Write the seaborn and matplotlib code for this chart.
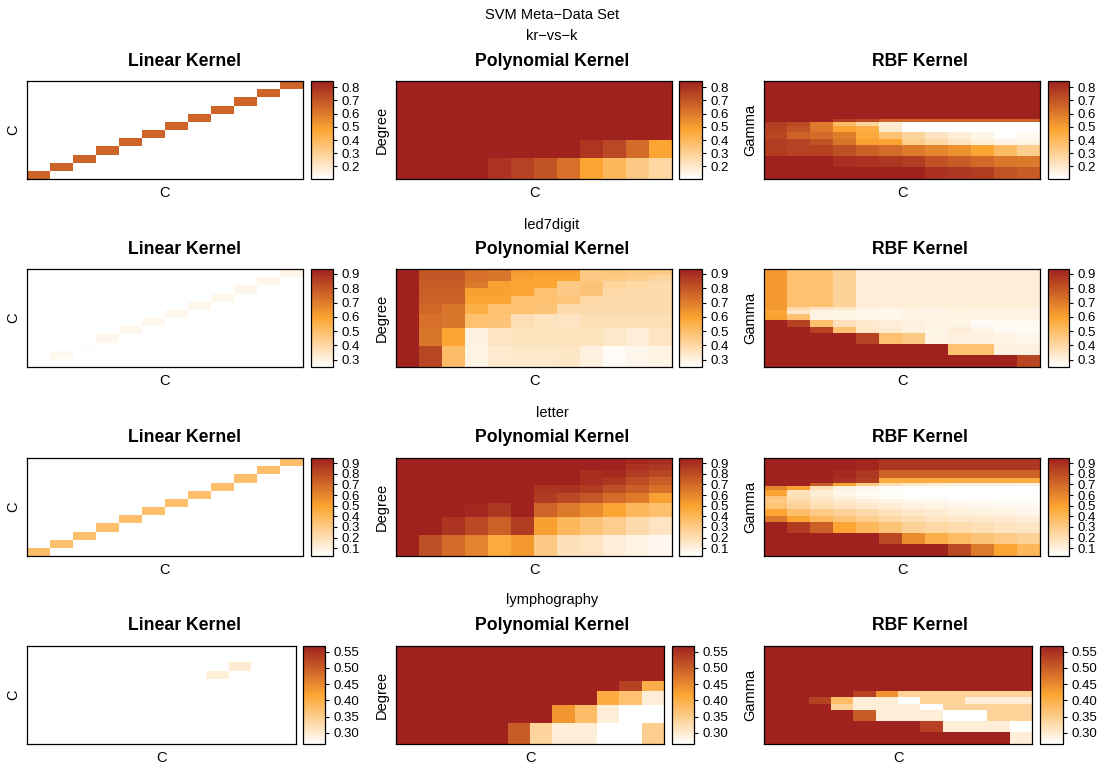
import numpy as np
import matplotlib
matplotlib.use("Agg")
import matplotlib.pyplot as plt
import seaborn as sns
from matplotlib.ticker import MultipleLocator, FormatStrFormatter

# =========================
# Datos
# =========================

dataset_names = ["kr−vs−k", "led7digit", "letter", "lymphography"]
kernel_titles = ["Linear Kernel", "Polynomial Kernel", "RBF Kernel"]

n_cost = 12
# bordes de la rejilla de parámetros (escala normalizada del eje)
poly_degree_edges = [0, 0.21, 0.397, 0.54, 0.643, 0.728, 0.803, 0.876, 0.94, 1.0]
rbf_gamma_edges = [0, 0.12, 0.23, 0.35, 0.405, 0.475, 0.545, 0.58, 0.614,
                   0.676, 0.71, 0.744, 0.795, 0.881, 1.0]

# --- kr-vs-k ---
krvsk_linear = [0.66, 0.66, 0.66, 0.66, 0.66, 0.66, 0.66, 0.66, 0.66, 0.66, 0.66, 0.66]
krvsk_poly = [
    [0.848, 0.848, 0.848, 0.848, 0.848, 0.848, 0.848, 0.848, 0.848, 0.848, 0.848, 0.848],
    [0.848, 0.848, 0.848, 0.848, 0.848, 0.848, 0.848, 0.848, 0.848, 0.848, 0.848, 0.848],
    [0.848, 0.848, 0.848, 0.848, 0.848, 0.848, 0.848, 0.848, 0.848, 0.848, 0.848, 0.848],
    [0.848, 0.848, 0.848, 0.848, 0.848, 0.848, 0.848, 0.848, 0.848, 0.848, 0.848, 0.848],
    [0.848, 0.848, 0.848, 0.848, 0.848, 0.848, 0.848, 0.848, 0.848, 0.848, 0.848, 0.848],
    [0.848, 0.848, 0.848, 0.848, 0.848, 0.848, 0.848, 0.848, 0.848, 0.848, 0.848, 0.848],
    [0.848, 0.848, 0.848, 0.848, 0.848, 0.848, 0.848, 0.848, 0.848, 0.848, 0.848, 0.848],
    [0.848, 0.848, 0.848, 0.848, 0.848, 0.848, 0.848, 0.848, 0.79, 0.74, 0.64, 0.476],
    [0.848, 0.848, 0.848, 0.848, 0.80, 0.76, 0.71, 0.625, 0.476, 0.40, 0.327, 0.27],
]
krvsk_rbf = [
    [0.848, 0.848, 0.848, 0.848, 0.848, 0.848, 0.848, 0.848, 0.848, 0.848, 0.848, 0.848],
    [0.848, 0.848, 0.848, 0.848, 0.848, 0.848, 0.848, 0.848, 0.848, 0.848, 0.848, 0.848],
    [0.848, 0.848, 0.848, 0.848, 0.848, 0.848, 0.848, 0.848, 0.848, 0.848, 0.848, 0.848],
    [0.848, 0.848, 0.848, 0.848, 0.848, 0.848, 0.848, 0.848, 0.848, 0.848, 0.848, 0.848],
    [0.848, 0.848, 0.848, 0.848, 0.848, 0.848, 0.848, 0.848, 0.848, 0.848, 0.848, 0.848],
    [0.848, 0.848, 0.848, 0.848, 0.848, 0.848, 0.848, 0.848, 0.848, 0.848, 0.848, 0.848],
    [0.848, 0.848, 0.848, 0.77, 0.74, 0.66, 0.66, 0.66, 0.66, 0.66, 0.66, 0.66],
    [0.774, 0.736, 0.595, 0.387, 0.283, 0.178, 0.104, 0.104, 0.104, 0.104, 0.104, 0.104],
    [0.759, 0.714, 0.602, 0.476, 0.446, 0.193, 0.11, 0.104, 0.104, 0.104, 0.104, 0.104],
    [0.744, 0.662, 0.640, 0.595, 0.46, 0.357, 0.283, 0.216, 0.178, 0.149, 0.11, 0.126],
    [0.774, 0.759, 0.714, 0.62, 0.49, 0.476, 0.312, 0.268, 0.216, 0.178, 0.149, 0.149],
    [0.774, 0.759, 0.759, 0.722, 0.669, 0.640, 0.602, 0.565, 0.536, 0.476, 0.387, 0.312],
    [0.848, 0.848, 0.848, 0.811, 0.803, 0.788, 0.774, 0.714, 0.684, 0.647, 0.610, 0.602],
    [0.848, 0.848, 0.848, 0.848, 0.848, 0.848, 0.848, 0.803, 0.788, 0.774, 0.714, 0.684],
]

# --- led7digit ---
led7_linear = [0.248, 0.275, 0.255, 0.28, 0.28, 0.28, 0.28, 0.282, 0.282, 0.285, 0.285, 0.29]
led7_poly = [
    [0.935, 0.798, 0.798, 0.729, 0.715, 0.626, 0.605, 0.605, 0.454, 0.468, 0.454, 0.454],
    [0.935, 0.798, 0.798, 0.729, 0.715, 0.605, 0.592, 0.592, 0.454, 0.454, 0.440, 0.413],
    [0.935, 0.784, 0.784, 0.708, 0.605, 0.592, 0.592, 0.454, 0.482, 0.413, 0.399, 0.385],
    [0.935, 0.777, 0.777, 0.605, 0.605, 0.592, 0.488, 0.454, 0.475, 0.399, 0.385, 0.385],
    [0.935, 0.770, 0.770, 0.592, 0.592, 0.488, 0.488, 0.468, 0.399, 0.385, 0.385, 0.385],
    [0.935, 0.756, 0.715, 0.557, 0.488, 0.488, 0.475, 0.385, 0.385, 0.385, 0.385, 0.385],
    [0.935, 0.729, 0.715, 0.488, 0.475, 0.372, 0.358, 0.351, 0.372, 0.372, 0.372, 0.372],
    [0.935, 0.715, 0.592, 0.303, 0.351, 0.358, 0.358, 0.358, 0.358, 0.337, 0.317, 0.351],
    [0.935, 0.839, 0.502, 0.296, 0.330, 0.337, 0.337, 0.344, 0.303, 0.262, 0.282, 0.296],
]
led7_rbf = [
    [0.626, 0.488, 0.488, 0.42, 0.317, 0.317, 0.317, 0.317, 0.317, 0.317, 0.317, 0.317],
    [0.626, 0.488, 0.488, 0.42, 0.317, 0.317, 0.317, 0.317, 0.317, 0.317, 0.317, 0.317],
    [0.626, 0.488, 0.488, 0.42, 0.317, 0.317, 0.317, 0.317, 0.317, 0.317, 0.317, 0.317],
    [0.626, 0.488, 0.488, 0.42, 0.317, 0.317, 0.317, 0.317, 0.317, 0.317, 0.317, 0.317],
    [0.626, 0.488, 0.488, 0.42, 0.317, 0.317, 0.317, 0.317, 0.317, 0.317, 0.317, 0.317],
    [0.626, 0.488, 0.488, 0.42, 0.317, 0.317, 0.317, 0.317, 0.317, 0.317, 0.317, 0.317],
    [0.626, 0.385, 0.351, 0.337, 0.296, 0.289, 0.303, 0.296, 0.303, 0.303, 0.303, 0.303],
    [0.592, 0.337, 0.296, 0.296, 0.282, 0.282, 0.296, 0.296, 0.303, 0.296, 0.296, 0.296],
    [0.605, 0.488, 0.296, 0.289, 0.282, 0.282, 0.296, 0.296, 0.296, 0.296, 0.296, 0.296],
    [0.935, 0.853, 0.488, 0.365, 0.330, 0.317, 0.303, 0.296, 0.289, 0.262, 0.275, 0.275],
    [0.935, 0.935, 0.853, 0.488, 0.344, 0.330, 0.303, 0.289, 0.317, 0.289, 0.268, 0.268],
    [0.935, 0.935, 0.935, 0.935, 0.853, 0.488, 0.454, 0.296, 0.303, 0.303, 0.296, 0.282],
    [0.935, 0.935, 0.935, 0.935, 0.935, 0.935, 0.935, 0.935, 0.488, 0.488, 0.303, 0.303],
    [0.935, 0.935, 0.935, 0.935, 0.935, 0.935, 0.935, 0.935, 0.935, 0.935, 0.935, 0.839],
]

# --- letter ---
letter_linear = [0.37, 0.36, 0.36, 0.36, 0.36, 0.36, 0.36, 0.36, 0.36, 0.36, 0.36, 0.36]
letter_poly = [
    [0.947, 0.947, 0.947, 0.947, 0.947, 0.947, 0.947, 0.947, 0.947, 0.947, 0.919, 0.910],
    [0.947, 0.947, 0.947, 0.947, 0.947, 0.947, 0.947, 0.947, 0.947, 0.947, 0.892, 0.873],
    [0.947, 0.947, 0.947, 0.947, 0.947, 0.947, 0.947, 0.947, 0.901, 0.919, 0.855, 0.818],
    [0.947, 0.947, 0.947, 0.947, 0.947, 0.947, 0.947, 0.947, 0.901, 0.873, 0.800, 0.736],
    [0.947, 0.947, 0.947, 0.947, 0.947, 0.947, 0.883, 0.892, 0.855, 0.791, 0.736, 0.671],
    [0.947, 0.947, 0.947, 0.947, 0.947, 0.947, 0.855, 0.809, 0.763, 0.690, 0.635, 0.506],
    [0.947, 0.947, 0.947, 0.930, 0.873, 0.947, 0.717, 0.644, 0.579, 0.488, 0.396, 0.359],
    [0.947, 0.947, 0.883, 0.809, 0.726, 0.855, 0.506, 0.396, 0.331, 0.285, 0.212, 0.166],
    [0.947, 0.791, 0.690, 0.607, 0.469, 0.533, 0.304, 0.184, 0.166, 0.120, 0.092, 0.065],
]
letter_rbf = [
    [0.947, 0.947, 0.947, 0.947, 0.93, 0.873, 0.873, 0.873, 0.873, 0.873, 0.873, 0.873],
    [0.947, 0.947, 0.947, 0.92, 0.873, 0.726, 0.726, 0.726, 0.726, 0.726, 0.726, 0.726],
    [0.947, 0.947, 0.947, 0.90, 0.85, 0.46, 0.46, 0.46, 0.46, 0.46, 0.46, 0.46],
    [0.947, 0.947, 0.745, 0.50, 0.30, 0.20, 0.15, 0.12, 0.10, 0.10, 0.10, 0.09],
    [0.60, 0.50, 0.20, 0.10, 0.07, 0.04, 0.04, 0.04, 0.035, 0.035, 0.03, 0.03],
    [0.488, 0.18, 0.12, 0.08, 0.05, 0.04, 0.03, 0.03, 0.03, 0.03, 0.028, 0.028],
    [0.33, 0.20, 0.14, 0.10, 0.07, 0.05, 0.04, 0.04, 0.03, 0.03, 0.03, 0.03],
    [0.30, 0.22, 0.17, 0.13, 0.10, 0.08, 0.07, 0.06, 0.05, 0.05, 0.04, 0.04],
    [0.33, 0.26, 0.20, 0.17, 0.14, 0.12, 0.10, 0.09, 0.08, 0.07, 0.06, 0.06],
    [0.488, 0.36, 0.30, 0.26, 0.22, 0.18, 0.15, 0.13, 0.11, 0.10, 0.09, 0.08],
    [0.644, 0.488, 0.396, 0.33, 0.28, 0.23, 0.20, 0.17, 0.15, 0.14, 0.13, 0.12],
    [0.947, 0.855, 0.73, 0.488, 0.396, 0.33, 0.26, 0.23, 0.21, 0.19, 0.17, 0.16],
    [0.947, 0.947, 0.947, 0.947, 0.947, 0.809, 0.579, 0.44, 0.377, 0.33, 0.30, 0.258],
    [0.947, 0.947, 0.947, 0.947, 0.947, 0.947, 0.947, 0.947, 0.81, 0.644, 0.488, 0.396],
]

# --- lymphography ---
lymph_linear = [0.267, 0.267, 0.267, 0.267, 0.267, 0.267, 0.267, 0.267, 0.296, 0.30, 0.267, 0.267]
lymph_poly = [
    [0.567, 0.567, 0.567, 0.567, 0.567, 0.567, 0.567, 0.567, 0.567, 0.567, 0.567, 0.567],
    [0.567, 0.567, 0.567, 0.567, 0.567, 0.567, 0.567, 0.567, 0.567, 0.567, 0.567, 0.567],
    [0.567, 0.567, 0.567, 0.567, 0.567, 0.567, 0.567, 0.567, 0.567, 0.567, 0.567, 0.567],
    [0.567, 0.567, 0.567, 0.567, 0.567, 0.567, 0.567, 0.567, 0.567, 0.567, 0.567, 0.567],
    [0.567, 0.567, 0.567, 0.567, 0.567, 0.567, 0.567, 0.567, 0.567, 0.567, 0.567, 0.567],
    [0.567, 0.567, 0.567, 0.567, 0.567, 0.567, 0.567, 0.567, 0.567, 0.567, 0.531, 0.401],
    [0.567, 0.567, 0.567, 0.567, 0.567, 0.567, 0.567, 0.567, 0.567, 0.407, 0.371, 0.296],
    [0.567, 0.567, 0.567, 0.567, 0.567, 0.567, 0.567, 0.435, 0.377, 0.296, 0.266, 0.266],
    [0.567, 0.567, 0.567, 0.567, 0.567, 0.501, 0.338, 0.296, 0.296, 0.266, 0.266, 0.350],
]
lymph_rbf = [
    [0.567, 0.567, 0.567, 0.567, 0.567, 0.567, 0.567, 0.567, 0.567, 0.567, 0.567, 0.567],
    [0.567, 0.567, 0.567, 0.567, 0.567, 0.567, 0.567, 0.567, 0.567, 0.567, 0.567, 0.567],
    [0.567, 0.567, 0.567, 0.567, 0.567, 0.567, 0.567, 0.567, 0.567, 0.567, 0.567, 0.567],
    [0.567, 0.567, 0.567, 0.567, 0.567, 0.567, 0.567, 0.567, 0.567, 0.567, 0.567, 0.567],
    [0.567, 0.567, 0.567, 0.567, 0.567, 0.567, 0.567, 0.567, 0.567, 0.567, 0.567, 0.567],
    [0.567, 0.567, 0.567, 0.567, 0.567, 0.567, 0.567, 0.567, 0.567, 0.567, 0.567, 0.567],
    [0.567, 0.567, 0.567, 0.567, 0.567, 0.567, 0.567, 0.567, 0.567, 0.567, 0.567, 0.567],
    [0.567, 0.567, 0.567, 0.567, 0.567, 0.567, 0.567, 0.567, 0.567, 0.567, 0.567, 0.567],
    [0.567, 0.567, 0.567, 0.567, 0.531, 0.438, 0.341, 0.341, 0.341, 0.341, 0.341, 0.341],
    [0.567, 0.567, 0.531, 0.380, 0.296, 0.296, 0.266, 0.341, 0.341, 0.296, 0.296, 0.296],
    [0.567, 0.567, 0.567, 0.341, 0.296, 0.296, 0.296, 0.266, 0.341, 0.341, 0.341, 0.341],
    [0.567, 0.567, 0.567, 0.567, 0.501, 0.296, 0.296, 0.296, 0.266, 0.266, 0.341, 0.341],
    [0.567, 0.567, 0.567, 0.567, 0.567, 0.567, 0.567, 0.531, 0.296, 0.296, 0.296, 0.266],
    [0.567, 0.567, 0.567, 0.567, 0.567, 0.567, 0.567, 0.567, 0.567, 0.567, 0.567, 0.296],
]

linear_sets = [krvsk_linear, led7_linear, letter_linear, lymph_linear]
poly_sets = [krvsk_poly, led7_poly, letter_poly, lymph_poly]
rbf_sets = [krvsk_rbf, led7_rbf, letter_rbf, lymph_rbf]

# =========================
# Estilo
# =========================

W, H = 1104, 766
sns.set_style("white")
plt.rcParams["font.family"] = ["Liberation Sans", "DejaVu Sans"]
plt.rcParams["text.color"] = "black"
plt.rcParams["axes.labelcolor"] = "black"
plt.rcParams["xtick.color"] = "black"
plt.rcParams["ytick.color"] = "black"

cmap = sns.blend_palette(["#FFFFFF", "#FCA632", "#A0221E"], as_cmap=True)


def box(x0, y0, x1, y1):
    """Convierte una caja en píxeles (origen arriba-izquierda) a coordenadas de figura."""
    return [x0 / W, 1 - y1 / H, (x1 - x0) / W, (y1 - y0) / H]


def style_panel(ax, ylabel):
    ax.set_xticks([])
    ax.set_yticks([])
    for spine in ax.spines.values():
        spine.set_visible(True)
        spine.set_color("black")
        spine.set_linewidth(0.9)
    ax.set_xlabel("C", fontsize=10.5, labelpad=5, color="black")
    ax.set_ylabel(ylabel, fontsize=10.5, labelpad=5, color="black")


def style_cbar(cbar, step):
    cbar.outline.set_visible(True)
    cbar.outline.set_linewidth(0.9)
    cbar.outline.set_edgecolor("black")
    cbar.ax.yaxis.set_major_locator(MultipleLocator(step))
    fmt = "%.2f" if step < 0.1 else "%.1f"
    cbar.ax.yaxis.set_major_formatter(FormatStrFormatter(fmt))
    cbar.ax.tick_params(length=3, width=0.8, pad=3, labelsize=9.5, direction="out",
                        colors="black")


row_y = [(81, 179), (269, 367), (458, 556), (646, 744)]
col_x = [(27, 303, 311, 333), (396, 672, 679, 702), (764, 1040, 1048, 1069)]
col_x_last = [(27, 296, 303, 325), (396, 664, 672, 694), (764, 1032, 1040, 1063)]
title_x = [184, 552, 920]
dataset_y = [36, 225, 413, 600]

fig = plt.figure(figsize=(W / 100, H / 100), dpi=100)

fig.text(0.5, 1 - 15 / H, "SVM Meta−Data Set", ha="center", va="center", fontsize=10.5)

for i, name in enumerate(dataset_names):
    y0, y1 = row_y[i]
    cols = col_x_last if i == 3 else col_x
    all_vals = np.concatenate([np.ravel(linear_sets[i]), np.ravel(poly_sets[i]),
                               np.ravel(rbf_sets[i])])
    vmin, vmax = np.nanmin(all_vals), np.nanmax(all_vals)
    step = 0.05 if vmax - vmin < 0.4 else 0.1

    fig.text(0.5, 1 - dataset_y[i] / H, name, ha="center", va="center", fontsize=10.5)

    # Linear kernel: solo la diagonal
    diag = np.full((n_cost, n_cost), np.nan)
    for j, v in enumerate(linear_sets[i]):
        diag[n_cost - 1 - j, j] = v
    ax = fig.add_axes(box(cols[0][0], y0, cols[0][1], y1))
    cax = fig.add_axes(box(cols[0][2], y0, cols[0][3], y1))
    sns.heatmap(diag, ax=ax, cmap=cmap, vmin=vmin, vmax=vmax, cbar_ax=cax,
                xticklabels=False, yticklabels=False)
    style_panel(ax, "C")
    style_cbar(ax.collections[0].colorbar, step)

    # Polynomial y RBF
    for k, (mat, edges, ylab) in enumerate([(poly_sets[i], poly_degree_edges, "Degree"),
                                             (rbf_sets[i], rbf_gamma_edges, "Gamma")], start=1):
        ax = fig.add_axes(box(cols[k][0], y0, cols[k][1], y1))
        cax = fig.add_axes(box(cols[k][2], y0, cols[k][3], y1))
        z = np.array(mat)[::-1]
        mesh = ax.pcolormesh(np.arange(n_cost + 1), edges, z, cmap=cmap,
                             vmin=vmin, vmax=vmax, shading="flat")
        ax.set_xlim(0, n_cost)
        ax.set_ylim(edges[0], edges[-1])
        style_panel(ax, ylab)
        cbar = fig.colorbar(mesh, cax=cax)
        style_cbar(cbar, step)

    for k in range(3):
        fig.text(title_x[k] / W, 1 - (y0 - 20) / H, kernel_titles[k], ha="center",
                 va="center", fontsize=12.7, fontweight="bold")

fig.savefig("out.png", dpi=100)
